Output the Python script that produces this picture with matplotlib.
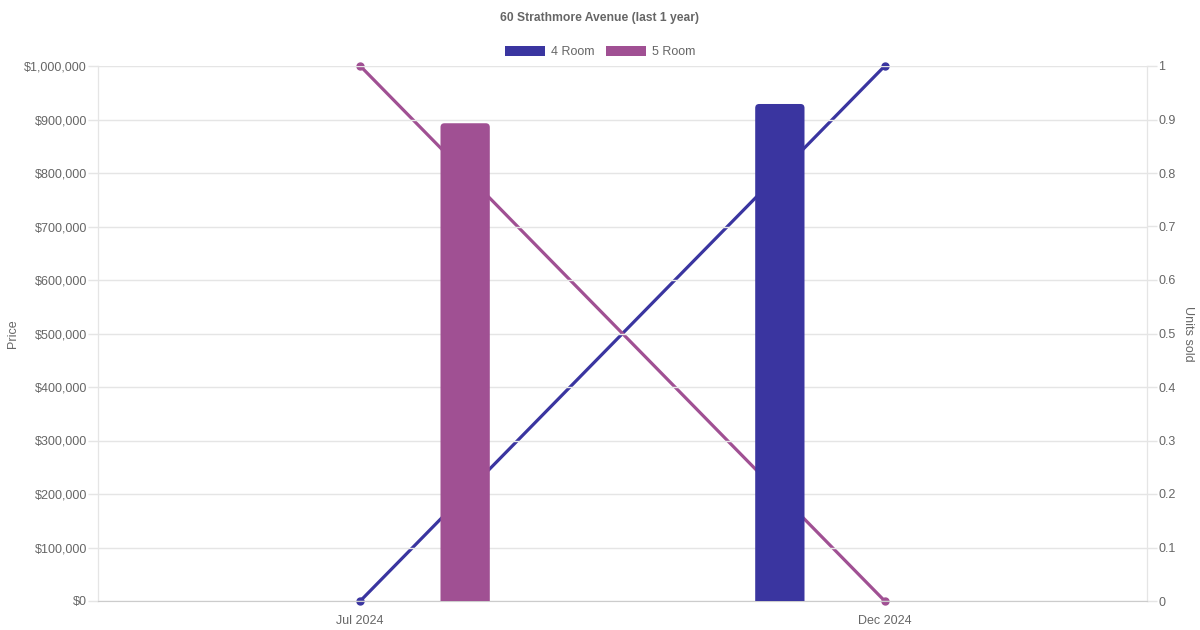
import numpy as np
import matplotlib.pyplot as plt
from matplotlib.patches import FancyBboxPatch, Patch
from matplotlib.ticker import FuncFormatter

plt.rcParams['font.family'] = ['Liberation Sans', 'DejaVu Sans']

months = ['Jul 2024', 'Dec 2024']
series = ['4 Room', '5 Room']
colors = ['#3a35a0', '#a05093']
price_4room = [np.nan, 929000]
price_5room = [893000, np.nan]
units_4room = [0, 1]
units_5room = [1, 0]

grey = '#666666'
grid_c = '#e5e5e5'

fig = plt.figure(figsize=(12, 6.3), dpi=100)
ax = fig.add_axes([98 / 1200, 1 - 601 / 630, (1147 - 98) / 1200, (601 - 66) / 630])
ax2 = ax.twinx()
ax.set_zorder(ax2.get_zorder() + 1)
ax.patch.set_visible(False)

x = np.arange(len(months))
prices = [price_4room, price_5room]
units = [units_4room, units_5room]
offsets = [-0.2, 0.2]
bw = 0.094

# unit lines on the right axis (drawn beneath the bars)
for u, c in zip(units, colors):
    ax2.plot(x, u, color=c, lw=2.3, marker='o', ms=5, clip_on=False, zorder=3)

# price bars with rounded corners
ymax = 1000000
r_x = 4 / 524.5
r_y = 4 / 535 * ymax
for p, c, off in zip(prices, colors, offsets):
    bars = ax.bar(x + off, np.nan_to_num(p), width=bw, color=c)
    for b in bars:
        h = b.get_height()
        b.remove()
        if h <= 0:
            continue
        patch = FancyBboxPatch((b.get_x(), -2 * r_y), b.get_width(), h + 2 * r_y,
                               boxstyle='round,pad=0,rounding_size=%f' % r_x,
                               mutation_aspect=r_y / r_x, fc=c, ec='none', zorder=3)
        ax.add_patch(patch)
        patch.set_clip_path(ax.patch)

ax.set_xlim(-0.5, 1.5)
ax.set_ylim(0, ymax)
ax2.set_ylim(0, 1)
ax.set_yticks(np.arange(0, ymax + 1, 100000))
ax2.set_yticks(np.arange(0, 1.01, 0.1))
ax.yaxis.set_major_formatter(FuncFormatter(lambda v, _: '${:,.0f}'.format(v)))
ax2.yaxis.set_major_formatter(FuncFormatter(lambda v, _: '{:g}'.format(round(v, 1))))
ax.set_xticks(x)
ax.set_xticklabels(months)

ax.grid(axis='y', color=grid_c, lw=1)
ax.set_axisbelow(True)
for a in (ax, ax2):
    for s in a.spines.values():
        s.set_color(grid_c)
    a.spines['top'].set_visible(False)
    a.tick_params(colors=grey, labelsize=9, length=7, width=1)
    a.tick_params(axis='y', color=grid_c, pad=1)
ax.spines['bottom'].set_color('#cccccc')
ax.tick_params(axis='x', length=0, pad=10)
ax2.tick_params(axis='x', length=0)

ax.set_ylabel('Price', color=grey, fontsize=9, labelpad=4)
ax2.set_ylabel('Units sold', color=grey, fontsize=9, rotation=270, labelpad=13)

fig.text(0.5, 1 - 18.5 / 630, '60 Strathmore Avenue (last 1 year)', ha='center', va='center',
         fontsize=8.7, fontweight='bold', color=grey)
handles = [Patch(fc=c, ec='none') for c in colors]
fig.legend(handles, series, loc='center', bbox_to_anchor=(0.5, 1 - 52 / 630), ncol=2,
           frameon=False, fontsize=9, labelcolor=grey, handlelength=3.2, handleheight=0.9,
           handletextpad=0.5, columnspacing=0.9)

fig.savefig('out.png', dpi=100)
